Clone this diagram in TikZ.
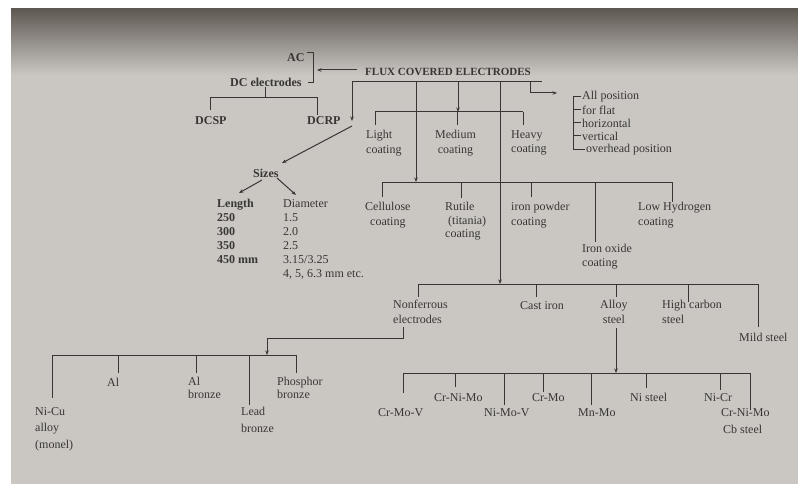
\documentclass[tikz,border=0pt]{standalone}
\usepackage{fontspec}
\setmainfont{Liberation Serif}
\usetikzlibrary{arrows.meta,positioning,calc}

\definecolor{page}{HTML}{CAC7C3}
\definecolor{pagedark}{HTML}{5F5953}
\definecolor{ink}{HTML}{383634}

\begin{document}
\begin{tikzpicture}[
    x=1pt, y=-1pt,
    font=\fontsize{12}{14.5}\selectfont,
    lbl/.style={anchor=north west, inner sep=0pt, text=ink, align=left},
    bold/.style={font=\fontsize{12}{14}\selectfont\bfseries},
    line/.style={draw=ink, line width=1pt},
    arrow/.style={line, -{Stealth[length=4.5pt,width=3.5pt]}}
  ]
  \useasboundingbox (0,0) rectangle (798,484);
  \fill[white] (0,0) rectangle (798,484);
  \fill[page] (11,9) rectangle (798,484);
  \shade[top color=pagedark, bottom color=page] (11,9) rectangle (798,75);

  % current
  \node[lbl, bold] (ac) at (287,53) {AC};
  \node[lbl, bold] (dc) at (230,78) {DC electrodes};
  \node[lbl, bold] (dcsp) at (195,116) {DCSP};
  \node[lbl, bold] (dcrp) at (307,116) {DCRP};
  \node[lbl, font=\fontsize{11}{13}\selectfont\bfseries] (flux) at (365,68) {FLUX COVERED ELECTRODES};

  % positions
  \node[lbl, anchor=west] (pos1) at (582,97) {All position};
  \node[lbl, anchor=west] (pos2) at (582,110) {for flat};
  \node[lbl, anchor=west] (pos3) at (582,123) {horizontal};
  \node[lbl, anchor=west] (pos4) at (582,136) {vertical};
  \node[lbl, anchor=west] (pos5) at (586,150) {overhead position};

  % coating thickness
  \node[lbl] (light) at (366,130) {Light\\coating};
  \node[lbl, align=center] (medium) at (435,130) {Medium\\coating};
  \node[lbl] (heavy) at (511,130) {Heavy\\coating};

  % sizes
  \node[lbl, bold] (sizes) at (253,169) {Sizes};
  \node[lbl, bold] (len) at (217,199) {Length\\250\\300\\350\\450 mm};
  \node[lbl, font=\fontsize{12}{14}\selectfont] (dia) at (283,199) {Diameter\\1.5\\2.0\\2.5\\3.15/3.25\\4, 5, 6.3 mm etc.};

  % coating types
  \node[lbl, align=center] (cel) at (365,202) {Cellulose\\coating};
  \node[lbl, font=\fontsize{12}{13.5}\selectfont] (rut) at (445,202) {Rutile\\\hspace{3pt}(titania)\\coating};
  \node[lbl] (ipow) at (511,202) {iron powder\\coating};
  \node[lbl, font=\fontsize{12}{13.5}\selectfont] (iox) at (582,244) {Iron oxide\\coating};
  \node[lbl] (lowh) at (638,202) {Low Hydrogen\\coating};

  % base metals
  \node[lbl] (nonf) at (393,300) {Nonferrous\\electrodes};
  \node[lbl] (cast) at (520,301) {Cast iron};
  \node[lbl, align=center] (alloy) at (600,300) {Alloy\\steel};
  \node[lbl] (hc) at (662,300) {High carbon\\steel};
  \node[lbl] (mild) at (739,333) {Mild steel};

  % nonferrous
  \node[lbl, font=\fontsize{12}{16.5}\selectfont] (nicu) at (35,407) {Ni-Cu\\alloy\\(monel)};
  \node[lbl] (al) at (107,378) {Al};
  \node[lbl, font=\fontsize{12}{13}\selectfont] (albr) at (188,377) {Al\\bronze};
  \node[lbl, font=\fontsize{12}{17}\selectfont] (lead) at (241,407) {Lead\\bronze};
  \node[lbl, font=\fontsize{12}{13}\selectfont] (phos) at (277,377) {Phosphor\\bronze};

  % alloy steels
  \node[lbl] (crmov) at (378,408) {Cr-Mo-V};
  \node[lbl] (crnimo) at (434,393) {Cr-Ni-Mo};
  \node[lbl] (nimov) at (484,408) {Ni-Mo-V};
  \node[lbl] (crmo) at (532,393) {Cr-Mo};
  \node[lbl] (mnmo) at (578,408) {Mn-Mo};
  \node[lbl] (nist) at (630,393) {Ni steel};
  \node[lbl] (nicr) at (704,393) {Ni-Cr};
  \node[lbl, font=\fontsize{12}{17}\selectfont] (cbst) at (721,408) {Cr-Ni-Mo\\\hspace{2pt}Cb steel};

  \coordinate (brk) at (313,53);
  \coordinate (dcbar) at (265,98);
  \coordinate (fbl) at (352,82);
  \coordinate (fbr) at (542,82);
  \coordinate (coatbar) at (458,112);
  \coordinate (typebar) at (416,182);
  \coordinate (matbar) at (500,284);
  \coordinate (nfbar) at (267,355);
  \coordinate (albar) at (616,373);

  % AC / DC
  \draw[line] ([xshift=-6]brk) -- (brk) -- ++(0,30) -- ++(-5,0);
  \draw[arrow] ([xshift=-8,yshift=-2]flux.north west) -- ([xshift=4,yshift=-17]brk);
  \draw[line] (dc.south -| dcbar) -- (dcbar);
  \draw[line] ([xshift=15,yshift=6]dcsp.north west) |- ([xshift=10]dcrp.north west |- dcbar) -- ++(0,17);

  % main bar
  \draw[line] (fbl) -- (fbr);
  \draw[arrow] (fbl) -- ++(0,39);
  \draw[arrow] (fbl) ++(0,44) -- ([xshift=29,yshift=6]sizes.north west);
  \draw[arrow] (typebar |- fbl) -- (typebar);
  \draw[arrow] (coatbar |- fbl) -- (coatbar);
  \draw[arrow] (matbar |- fbl) -- (matbar);
  \draw[arrow] ([xshift=-12]fbr) |- ([xshift=-25,yshift=4]pos1.west);

  % positions
  \draw[line] ([xshift=-9]pos1.west) -- ([xshift=-13]pos5.west);
  \foreach \i/\d in {1/9,2/9,3/9,4/9,5/13}
    \draw[line] ([xshift=-\d]pos\i.west) -- ([xshift=-1]pos\i.west);

  % sizes
  \draw[arrow] ([xshift=9,yshift=-11]sizes.north west) -- ([xshift=22,yshift=6]len.north west);
  \draw[arrow] ([xshift=24,yshift=-9]sizes.north west) -- ([xshift=13,yshift=4]dia.north west);

  % coating thickness
  \draw[line] ([xshift=9]light.north west |- coatbar) -- ([xshift=12]heavy.north west |- coatbar);
  \foreach \n/\dx in {light/9, medium/22, heavy/12}
    \draw[line] ([xshift=\dx]\n.north west |- coatbar) -- ++(0,13);

  % coating types
  \draw[line] ([xshift=17]cel.north west |- typebar) -- ([xshift=34]lowh.north west |- typebar);
  \foreach \n/\dx/\len in {cel/17/15, rut/16/16, ipow/20/15, iox/13/60, lowh/34/20}
    \draw[line] ([xshift=\dx]\n.north west |- typebar) -- ++(0,\len);

  % base metals
  \draw[line] ([xshift=25]nonf.north west |- matbar) -- ([xshift=19]mild.north west |- matbar);
  \foreach \n/\dx/\len in {nonf/25/13, cast/16/13, alloy/16/13, hc/26/18, mild/19/43}
    \draw[line] ([xshift=\dx]\n.north west |- matbar) -- ++(0,\len);

  % nonferrous
  \draw[arrow] ([xshift=10,yshift=-27]nonf.north west) |- ([yshift=17]nfbar) -- (nfbar);
  \draw[line] ([xshift=17]nicu.north west |- nfbar) -- ([xshift=19]phos.north west |- nfbar);
  \foreach \n/\dx/\len in {nicu/17/43, al/11/18, albr/8/18, lead/8/50, phos/19/18}
    \draw[line] ([xshift=\dx]\n.north west |- nfbar) -- ++(0,\len);

  % alloy steels
  \draw[arrow] ([xshift=16,yshift=-28]alloy.north west) -- (albar);
  \draw[line] ([xshift=25]crmov.north west |- albar) -- ([xshift=29]cbst.north west |- albar);
  \foreach \n/\dx/\len in {crmov/25/20, crnimo/21/14, nimov/20/32, crmo/11/19, mnmo/13/32, nist/16/15, nicr/16/17, cbst/29/37}
    \draw[line] ([xshift=\dx]\n.north west |- albar) -- ++(0,\len);
\end{tikzpicture}
\end{document}
